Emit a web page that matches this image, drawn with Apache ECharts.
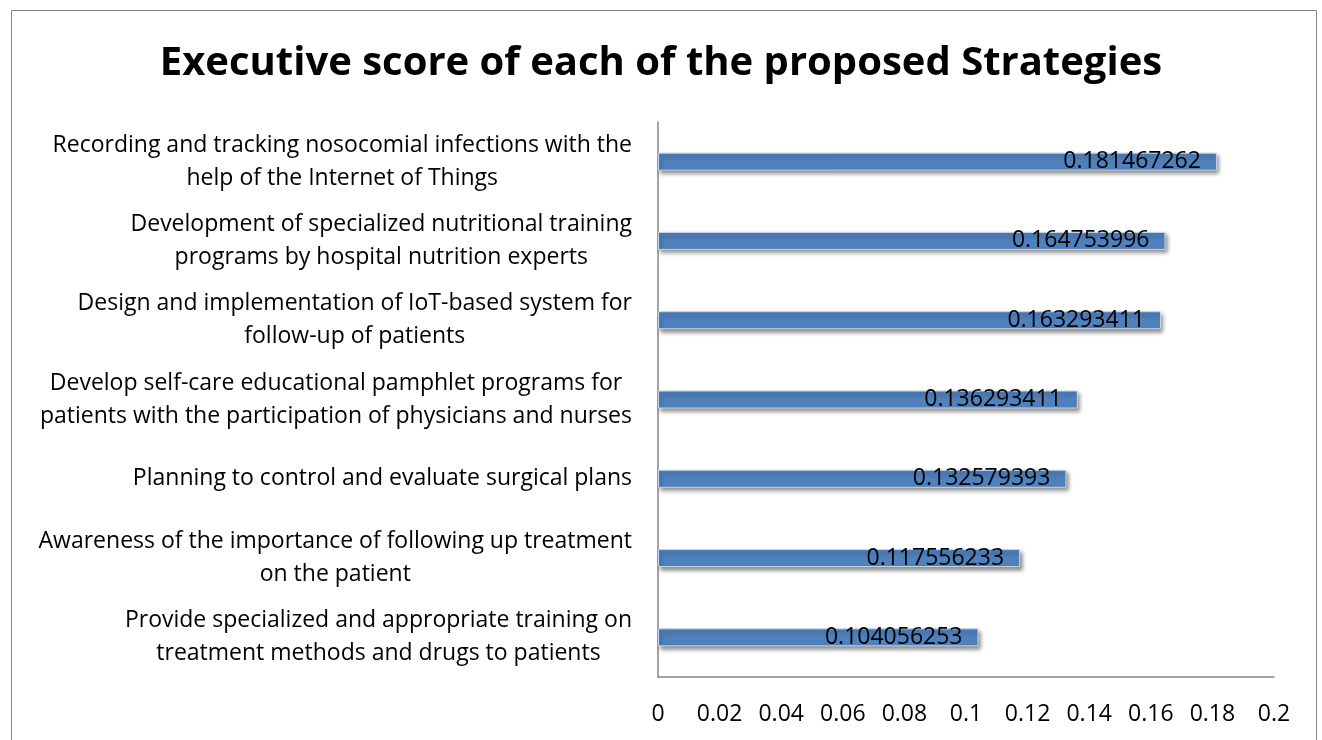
<!DOCTYPE html>
<html><head><meta charset="utf-8">
<script src="https://cdn.jsdelivr.net/npm/echarts@6/dist/echarts.min.js"></script>
<style>html,body{margin:0;padding:0;background:#fff}#c{width:1322px;height:740px}</style>
</head><body><div id="c"></div>
<script>
const titleText = 'Executive score of each of the proposed Strategies';
const categories = [
  'Provide specialized and appropriate training on\ntreatment methods and drugs to patients',
  'Awareness of the importance of following up treatment\non the patient',
  'Planning to control and evaluate surgical plans',
  'Develop self-care educational pamphlet programs for\npatients with the participation of physicians and nurses',
  'Design and implementation of IoT-based system for\nfollow-up of patients',
  'Development of specialized nutritional training\nprograms by hospital nutrition experts',
  'Recording and tracking nosocomial infections with the\nhelp of the Internet of Things'
];
const values = [0.104056253, 0.117556233, 0.132579393, 0.136293411, 0.163293411, 0.164753996, 0.181467262];
const FONT = 'Open Sans';
const chart = echarts.init(document.getElementById('c'));
chart.setOption({
  backgroundColor: '#fff',
  animation: false,
  title: {
    text: titleText, left: 'center', top: 39,
    textStyle: {fontFamily: FONT, fontWeight: 'bold', fontSize: 40, color: '#000'}
  },
  graphic: [{type: 'rect', shape: {x: 11.5, y: 10.5, width: 1305, height: 760},
    style: {fill: 'none', stroke: '#868686', lineWidth: 1}, silent: true}],
  grid: {left: 658, right: 48, top: 122, bottom: 63},
  xAxis: {
    type: 'value', min: 0, max: 0.2, interval: 0.02,
    axisLine: {show: true, lineStyle: {color: '#868686', width: 1.5}},
    axisTick: {show: false}, splitLine: {show: false},
    axisLabel: {fontFamily: FONT, fontSize: 23, color: '#000', margin: 26,
      formatter: v => String(+v.toFixed(2))}
  },
  yAxis: {
    type: 'category', data: categories,
    axisLine: {show: true, lineStyle: {color: '#868686', width: 1.5}},
    axisTick: {show: false},
    axisLabel: {fontFamily: FONT, fontSize: 23, color: '#000', margin: 26, lineHeight: 33, align: 'right',
      formatter: v => v.split('\n').map(s => '{c|' + s + '}').join('\n'),
      rich: {c: {align: 'center', fontFamily: FONT, fontSize: 23, lineHeight: 33, color: '#000'}}}
  },
  series: [{
    type: 'bar', data: values, barWidth: 18,
    itemStyle: {color: '#4F81BD', borderColor: '#C6D6EA', borderWidth: 1,
      shadowColor: 'rgba(0,0,0,0.45)', shadowBlur: 4, shadowOffsetX: 2, shadowOffsetY: 3},
    label: {show: true, position: 'insideRight', distance: 16, fontFamily: FONT, fontSize: 23, color: '#000',
      formatter: p => String(p.value)}
  }]
});
</script></body></html>
